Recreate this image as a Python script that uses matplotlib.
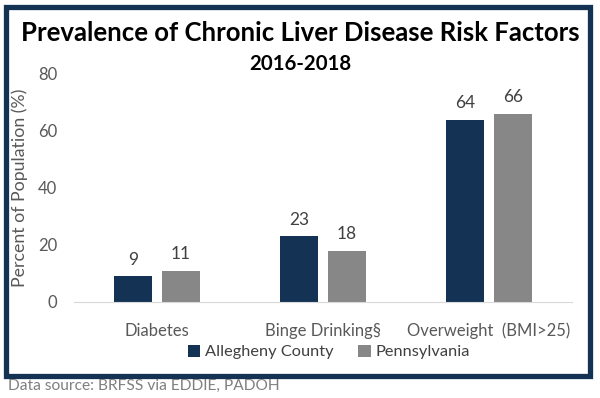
import numpy as np
from matplotlib import pyplot as plt
from matplotlib.patches import Rectangle

categories = ["Diabetes", "Binge Drinking§", "Overweight  (BMI>25)"]
allegheny = [9, 23, 64]
pennsylvania = [11, 18, 66]
series_names = ["Allegheny County", "Pennsylvania"]
yticks = [0, 20, 40, 60, 80]

NAVY = "#133254"
GRAY = "#878787"
TXT = "#595959"


def main():
    plt.rcParams['font.family'] = ['Lato', 'DejaVu Sans']

    fig = plt.figure(figsize=(6.0, 3.98), dpi=100)
    ax = fig.add_axes([74 / 600, 1 - 302 / 398, 498 / 600, 228 / 398])

    x = np.arange(len(categories))
    w = 0.229
    off = 0.145
    b1 = ax.bar(x - off, allegheny, w, color=NAVY, label=series_names[0])
    b2 = ax.bar(x + off, pennsylvania, w, color=GRAY, label=series_names[1])

    for bars in (b1, b2):
        for b in bars:
            ax.text(b.get_x() + b.get_width() / 2, b.get_height() + 3,
                    f"{b.get_height():.0f}", ha='center', va='bottom',
                    fontsize=12.5, color="#404040")

    ax.set_xlim(-0.5, 2.5)
    ax.set_ylim(0, 80)
    ax.set_yticks(yticks)
    ax.set_xticks(x)
    ax.set_xticklabels(categories)
    ax.tick_params(axis='both', length=0, labelsize=12, colors=TXT)
    ax.tick_params(axis='x', pad=15)
    ax.tick_params(axis='y', pad=12)
    for s in ('top', 'right', 'left'):
        ax.spines[s].set_visible(False)
    ax.spines['bottom'].set_color("#d9d9d9")
    ax.set_ylabel("Percent of Population (%)", fontsize=12.8, color=TXT, labelpad=7)

    fig.legend(handles=[b1, b2], loc='center', bbox_to_anchor=(329 / 600, 1 - 352 / 398),
               ncol=2, frameon=False, fontsize=11.8, handlelength=0.75, handleheight=0.75,
               handletextpad=0.3, columnspacing=1.5, labelcolor="#404040")

    fig.text(0.5, 1 - 33 / 398, "Prevalence of Chronic Liver Disease Risk Factors",
             ha='center', va='center', fontsize=18.5, fontweight='bold', color='black')
    fig.text(0.5, 1 - 64 / 398, "2016-2018", ha='center', va='center',
             fontsize=14.7, fontweight='bold', color='black')

    fig.patches.append(Rectangle((5.5 / 600, 1 - 376 / 398), 584 / 600, 369 / 398,
                                 transform=fig.transFigure, fill=False,
                                 edgecolor=NAVY, linewidth=3.8))
    fig.text(8 / 600, 1 - 386 / 398, "Data source: BRFSS via EDDIE, PADOH",
             ha='left', va='center', fontsize=11.2, color="#7f7f7f")

    fig.savefig("out.png", dpi=100)


if __name__ == "__main__":
    main()
